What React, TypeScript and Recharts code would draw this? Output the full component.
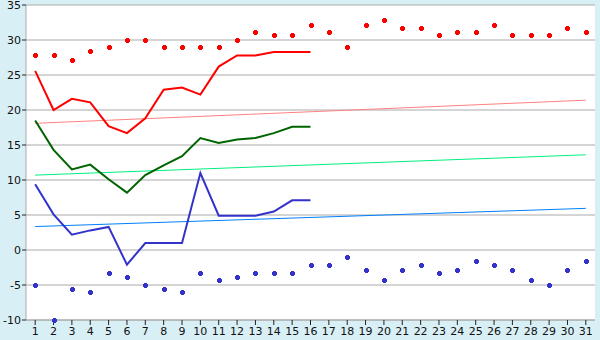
import { ComposedChart, Line, XAxis, YAxis, CartesianGrid } from 'recharts'

const DAYS = [
  '1', '2', '3', '4', '5', '6', '7', '8', '9', '10', '11', '12', '13', '14', '15', '16',
  '17', '18', '19', '20', '21', '22', '23', '24', '25', '26', '27', '28', '29', '30', '31',
]

// red crosses
const MAX_POINTS = [
  27.8, 27.8, 27.2, 28.4, 29.0, 30.0, 30.0, 29.0, 29.0, 29.0, 29.0, 30.0, 31.1, 30.7, 30.7, 32.2,
  31.1, 29.0, 32.2, 32.8, 31.7, 31.7, 30.7, 31.1, 31.1, 32.2, 30.7, 30.7, 30.7, 31.7, 31.1,
]
// blue crosses
const MIN_POINTS = [
  -5.0, -10.0, -5.6, -6.0, -3.3, -3.9, -5.0, -5.6, -6.0, -3.3, -4.3, -3.9, -3.3, -3.3, -3.3, -2.2,
  -2.2, -1.0, -2.8, -4.3, -2.8, -2.2, -3.3, -2.8, -1.6, -2.2, -2.8, -4.3, -5.0, -2.8, -1.6,
]

// lines (first 16 days)
const MAX_LINE = [25.6, 20.0, 21.6, 21.1, 17.7, 16.7, 18.8, 22.9, 23.2, 22.2, 26.2, 27.8, 27.8, 28.3, 28.3, 28.3]
const MEAN_LINE = [18.5, 14.3, 11.5, 12.2, 10.1, 8.2, 10.7, 12.1, 13.4, 16.0, 15.3, 15.8, 16.0, 16.7, 17.6, 17.6]
const MIN_LINE = [9.4, 5.1, 2.2, 2.8, 3.3, -2.1, 1.0, 1.0, 1.0, 11.0, 4.9, 4.9, 4.9, 5.5, 7.1, 7.1]

// trend lines: value at day 1 and at day 31
const MAX_TREND = [18.1, 21.4]
const MEAN_TREND = [10.7, 13.6]
const MIN_TREND = [3.35, 5.95]

const Y_TICKS = [-10, -5, 0, 5, 10, 15, 20, 25, 30, 35]

const last = DAYS.length - 1
const data = DAYS.map((day, i) => ({
  day,
  maxPt: MAX_POINTS[i],
  minPt: MIN_POINTS[i],
  maxLine: i < MAX_LINE.length ? MAX_LINE[i] : null,
  meanLine: i < MEAN_LINE.length ? MEAN_LINE[i] : null,
  minLine: i < MIN_LINE.length ? MIN_LINE[i] : null,
  maxTrend: i === 0 ? MAX_TREND[0] : i === last ? MAX_TREND[1] : null,
  meanTrend: i === 0 ? MEAN_TREND[0] : i === last ? MEAN_TREND[1] : null,
  minTrend: i === 0 ? MIN_TREND[0] : i === last ? MIN_TREND[1] : null,
}))

function cross(color: string) {
  return (props: any) => {
    const { cx, cy, index } = props
    if (cx == null || cy == null) return <g key={index} />
    const x = Math.round(cx)
    const y = Math.round(cy)
    return (
      <g key={index} fill={color} stroke="none" shapeRendering="crispEdges">
        <rect x={x - 2} y={y - 1} width={5} height={3} />
        <rect x={x - 1} y={y - 2} width={3} height={5} />
      </g>
    )
  }
}

const tickStyle = { fontSize: 11, fill: '#111', fontFamily: 'DejaVu Sans, Verdana, sans-serif' }

export default function App() {
  return (
    <div style={{ position: 'absolute', left: 0, top: 0, width: 600, height: 340, background: '#d9eff6' }}>
      <ComposedChart width={600} height={340} data={data} margin={{ top: 5, right: 5, bottom: 0, left: 0 }}>
        <CartesianGrid vertical={false} stroke="#aaaaaa" fill="#ffffff" />
        <XAxis
          dataKey="day"
          scale="band"
          height={20}
          tick={tickStyle}
          tickSize={5}
          tickMargin={2}
          stroke="#222"
          axisLine={{ stroke: '#aaaaaa' }}
          interval={0}
        />
        <YAxis
          domain={[-10, 35]}
          ticks={Y_TICKS}
          width={26}
          tick={tickStyle}
          tickSize={4}
          tickMargin={1}
          stroke="#222"
          axisLine={{ stroke: '#aaaaaa' }}
          interval={0}
        />
        <YAxis yAxisId="edge" orientation="right" width={0} tick={false} tickLine={false} axisLine={{ stroke: '#aaaaaa' }} />

        <Line dataKey="maxTrend" stroke="#ff8080" strokeWidth={1} dot={false} connectNulls isAnimationActive={false} />
        <Line dataKey="meanTrend" stroke="#00f080" strokeWidth={1} dot={false} connectNulls isAnimationActive={false} />
        <Line dataKey="minTrend" stroke="#0080ff" strokeWidth={1} dot={false} connectNulls isAnimationActive={false} />

        <Line dataKey="maxLine" stroke="#ff0000" strokeWidth={2} dot={false} isAnimationActive={false} />
        <Line dataKey="meanLine" stroke="#006400" strokeWidth={2} dot={false} isAnimationActive={false} />
        <Line dataKey="minLine" stroke="#3333cc" strokeWidth={2} dot={false} isAnimationActive={false} />

        <Line dataKey="maxPt" stroke="none" dot={cross('#ff0000')} activeDot={false} isAnimationActive={false} />
        <Line dataKey="minPt" stroke="none" dot={cross('#3333cc')} activeDot={false} isAnimationActive={false} />
      </ComposedChart>
    </div>
  )
}
